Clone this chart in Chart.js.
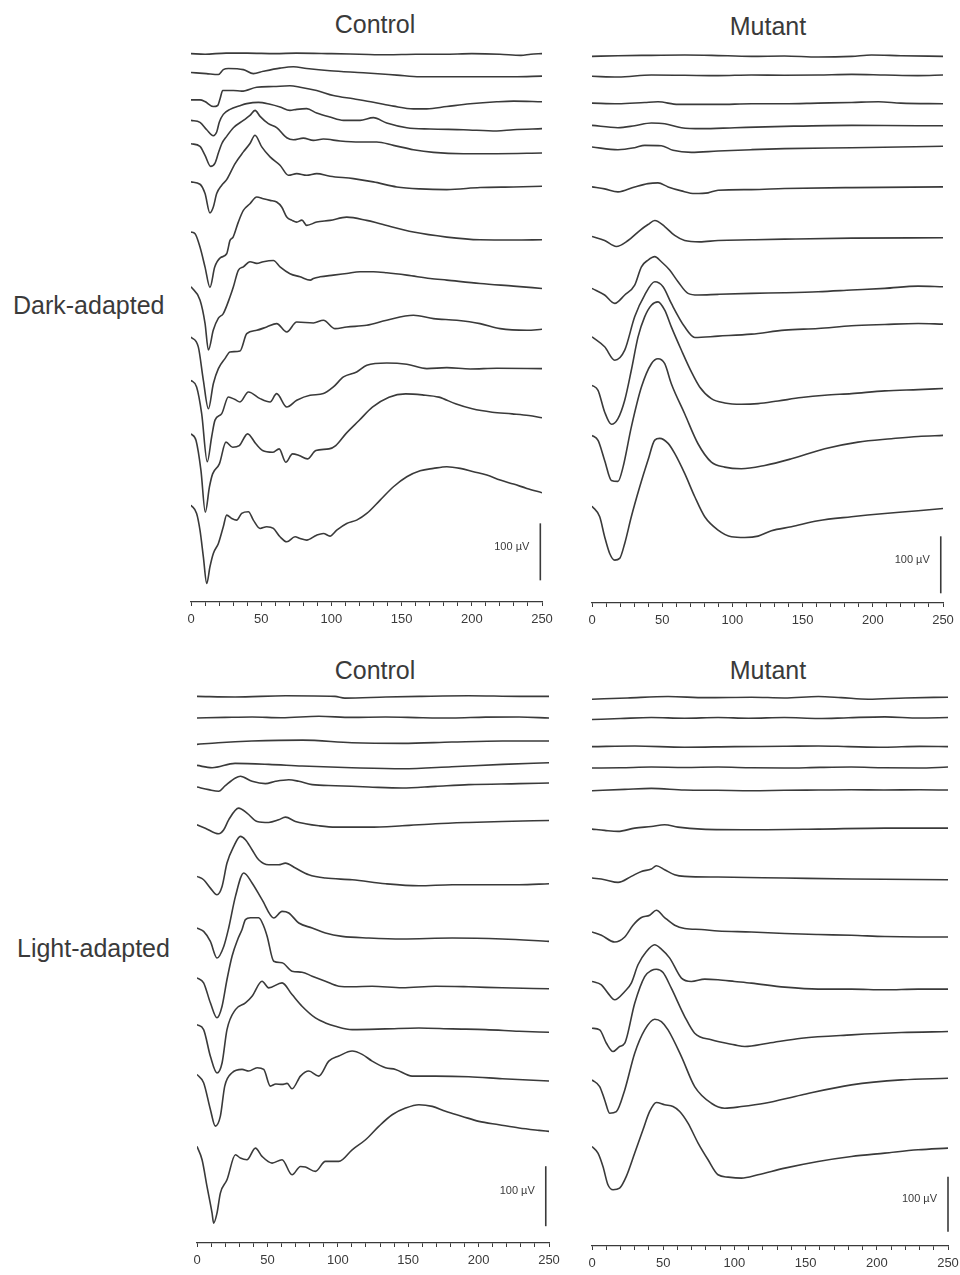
<!DOCTYPE html>
<html>
<head>
<meta charset="utf-8">
<script src="https://cdn.jsdelivr.net/npm/chart.js@4.4.1/dist/chart.umd.min.js"></script>
<style>
  body { margin: 0; background: #fff; width: 960px; height: 1275px; position: relative; overflow: hidden;
         font-family: "Liberation Sans", Arial, sans-serif; color: #3a3a3a; }
  canvas { position: absolute; }
  .lbl { position: absolute; font-size: 25px; line-height: 25px; white-space: nowrap; }
  .ttl { width: 200px; text-align: center; }
</style>
</head>
<body>
<div class="lbl ttl" style="left:275px; top:12px">Control</div>
<div class="lbl ttl" style="left:668px; top:14px">Mutant</div>
<div class="lbl ttl" style="left:275px; top:658px">Control</div>
<div class="lbl ttl" style="left:668px; top:658px">Mutant</div>
<div class="lbl" style="left:13px; top:293px">Dark-adapted</div>
<div class="lbl" style="left:17px; top:936px">Light-adapted</div>

<canvas id="darkControl" width="391" height="606" style="left:171px; top:26px"></canvas>
<canvas id="darkMutant" width="391" height="607" style="left:572px; top:26px"></canvas>
<canvas id="lightControl" width="392" height="597" style="left:177px; top:674px"></canvas>
<canvas id="lightMutant" width="396" height="600" style="left:572px; top:674px"></canvas>

<script>
// each trace: [time ms, µV relative to trace start]; base = stacking offset of each trace (µV above the axis)

// Dark-adapted, control
const darkControl = [
  [[0,0],[10,-1],[25,1],[40,1],[60,0],[75,1],[100,0],[120,-1],[140,-2],[160,-1],[180,-1],[200,0],[220,-1],[235,-3],[242,-1],[250,0]],
  [[0,0],[11,-2],[19.5,-3.5],[23,5],[26.6,7],[37.3,5],[44.4,-2],[51.5,2],[63.4,7.6],[72.9,10],[82.4,7],[99,3],[122.8,-0.6],[146.6,-4.7],[163,-7.6],[194,-7.6],[229.7,-7.6],[250,-6.4]],
  [[0,0],[6.4,0],[9.9,-2.9],[15.9,-11.7],[19,-9.9],[20.7,1.8],[22.6,16.4],[30.2,16.4],[36.1,15.2],[46.8,22.2],[58.7,23.4],[70.5,24.6],[77.7,22.2],[89.5,16.4],[101.4,7.6],[115.7,1.8],[129.9,-4.1],[144.2,-11.1],[158.4,-15.8],[167.9,-15.8],[182.2,-11.7],[198.8,-7],[217.8,-3.5],[229.7,-2.3],[250,-3.5]],
  [[0,0],[6.4,-3.5],[11.2,-16.4],[15.9,-26.9],[18.3,-20.5],[20.2,-2.9],[23,10.5],[27.8,19.3],[34.9,25.7],[39.7,29.3],[48,31.6],[56.3,28.1],[63.4,23.4],[70.5,17.5],[75.3,19.3],[82.4,20.5],[89.5,12.9],[99,5.8],[108.6,0],[120.4,0],[129.9,4.7],[139.4,-4.7],[153.7,-12.9],[170.3,-15.2],[194,-16.4],[217.8,-18.7],[229.7,-16.4],[250,-14.6]],
  [[0,0],[6.4,-4.7],[10,-20.5],[14,-39.8],[17.1,-33.9],[19.5,-16.4],[21.9,0],[25.4,12.9],[30.2,28.1],[37.3,40.9],[42,49.7],[45.6,58.5],[49.2,48],[55.1,35.1],[61,28.1],[68.2,10.5],[72.9,7],[80,9.9],[87.2,5.8],[94.3,8.2],[106.2,4.7],[120.4,2.9],[132.3,2.9],[144.2,-2.9],[158.4,-10.5],[172.7,-15.2],[194,-17.5],[217.8,-17.5],[250,-16.4]],
  [[0,0],[6.4,-4.1],[10,-20.5],[13.5,-54.4],[15.9,-43.9],[18.3,-20.5],[21.9,-5.8],[25.4,4.1],[31.4,32.2],[37.3,52.7],[42,67.3],[45.6,81.9],[50.4,61.4],[56.3,43.9],[63.4,29.3],[69.4,11.7],[75.3,14.6],[82.4,11.7],[89.5,14.6],[99,9.9],[115.7,5.8],[129.9,0],[146.6,-8.8],[163.2,-12.3],[182.2,-13.5],[205.9,-9.9],[229.7,-8.8],[250,-7.6]],
  [[0,0],[2.9,-2.9],[6.4,-26.3],[10,-61.4],[13.5,-97],[16.9,-61.4],[21,-45],[25.4,-38],[27.8,-14.6],[30,-8.8],[33.7,17.5],[37.3,38],[42,49.7],[46.8,61.4],[51.5,58.5],[56.3,55.6],[61,52.7],[64.6,43.9],[68.2,26.3],[72,20.5],[75.3,17.5],[79,21],[82.4,11.7],[89.5,17.5],[99,20.5],[110.9,26.3],[125.1,20.5],[134.7,14.6],[158.4,0],[182.2,-8.8],[205.9,-13.5],[230,-14],[250,-13.5]],
  [[0,0],[6.4,-23],[10,-64],[12.4,-111],[15.9,-76],[19.5,-55],[23,-47],[27.8,-17.5],[30.2,0],[33.7,29],[37.3,35],[42,44],[46.8,41],[51.5,44],[58.7,46],[63.4,35],[70.5,23],[77.7,17.5],[85,11.7],[87.2,14.6],[91.9,17.5],[101.4,20.5],[110.9,23.4],[120.4,26.3],[129.9,26.3],[139.4,24.6],[153.7,20.5],[170.3,14.6],[182.2,11.7],[205.9,5.8],[229.7,1.2],[250,-2.9]],
  [[0,0],[5.2,-17.5],[8.8,-76],[12.4,-126],[15.9,-82],[19.5,-55.6],[24.2,-38],[27.8,-26.3],[34.9,-24.6],[39.7,5.8],[46.8,11.7],[53.9,17.5],[61,23.4],[68.2,8.8],[75.3,26.3],[87.2,24.6],[94.3,29.3],[102.6,14.6],[110.9,17.5],[125.1,20.5],[139.4,29.3],[158.4,38],[172.7,32.2],[189.3,29.3],[205.9,23.4],[220.2,14.6],[239.2,11.7],[250,13.5]],
  [[0,0],[4,-11.7],[7.6,-58.5],[11.6,-143],[14.7,-99.5],[17.1,-70],[21.9,-58.5],[26.6,-29.3],[31.4,-33.9],[34.9,-38],[40.9,-20.5],[49.2,-32.2],[56.3,-38],[61,-23.4],[68.2,-46.8],[75.3,-35.1],[84.8,-26.3],[94.3,-23.4],[101.4,-11.7],[108.6,5.8],[118,14.6],[125.2,26.3],[139.4,30.4],[153.7,28.1],[168,20.5],[182.2,22.2],[198.8,19.9],[217.8,21],[250,20.5]],
  [[0,0],[3.6,-11.7],[7.1,-64.4],[10.2,-137.5],[13.1,-93.6],[15.4,-70.2],[20.2,-52.7],[24.9,-14.6],[29.7,-23.4],[34.4,-20.5],[40.3,0],[46.2,-17.5],[51,-29.3],[58.1,-32.2],[62.8,-26.3],[67.5,-49.7],[72.3,-35.1],[77,-38],[82.9,-43.9],[88.9,-29.3],[98.3,-26.3],[103.1,-20.5],[110.2,0],[119.7,23.4],[129.2,46.8],[141,64.4],[152.9,70.2],[164.7,68.4],[176.6,64.4],[188.4,52.7],[200.3,43.9],[214.5,38],[228.7,35.1],[240.6,32.2],[250,28.1]],
  [[0,0],[4,-14.6],[6.4,-43.9],[8.8,-90.7],[11.2,-137.5],[13.5,-108.2],[15.9,-84.8],[19.5,-67.3],[23,-38],[25.4,-17.5],[29,-23.4],[32.5,-26.3],[36.1,-14.6],[40.9,-11.7],[44.4,-26.3],[49.2,-41],[53.9,-38],[58.7,-41],[63.4,-55.6],[68.2,-64.4],[74.1,-55.6],[77.7,-58.5],[82.4,-61.4],[89.5,-52.7],[94.3,-49.7],[99,-54.4],[103.8,-43.9],[110.9,-32.2],[118,-26.3],[125.2,-14.6],[134.7,8.8],[144.2,32.2],[153.7,49.7],[163.2,60.3],[172.7,64.4],[182.2,67.3],[191.7,64.4],[201.2,58.5],[210.7,52.7],[220.2,43.9],[229.7,36.9],[239.2,29.3],[250,21.6]]
];
const darkControlBase = [962, 929, 881, 845, 804, 737, 649, 553, 465, 389, 295, 170];

// Dark-adapted, mutant
const darkMutant = [
  [[0,0],[18.5,1.2],[42.3,1.8],[66,2.3],[85,1.8],[113.5,0],[137,0.6],[161,-1.2],[185,0],[199,2.3],[220,1.2],[250,0]],
  [[0,0],[18.5,-1.2],[42.3,2.3],[66,1.8],[89.8,1.2],[113.5,2.3],[137,1.8],[161,2.3],[185,3.5],[208.6,2.3],[232,1.2],[250,2.3]],
  [[0,0],[18.5,-1.2],[37.5,1.2],[47,2.3],[61.3,-2.3],[89.8,-2.3],[113.5,-1.2],[137,-1.2],[161,0],[185,1.2],[204,2.3],[220,0],[250,-1.2]],
  [[0,0],[18.5,-4.1],[30.4,-0.6],[42.3,4.1],[51.8,2.9],[63.7,-4.1],[78,-5.8],[101.7,-4.1],[137,-1.8],[185,0],[232,-0.6],[250,-0.6]],
  [[0,0],[18.5,-4.7],[30.4,-1.2],[37.5,2.9],[49.4,2.3],[57.7,-5.8],[70.8,-9.4],[89.8,-7],[113.5,-4.7],[137,-2.9],[185,-1.2],[250,1.2]],
  [[0,0],[9,-3.5],[18.5,-8.8],[30.4,0],[39.9,5.8],[47,7],[54.2,0],[63.7,-7],[73.2,-11.7],[82.7,-10.5],[89.8,-5.8],[113.5,-4.7],[137,-2.9],[185,-1.2],[250,0]],
  [[0,0],[9,-7],[17.3,-17.5],[25.7,-7],[34,10.5],[39.9,21],[44.7,28.1],[51.8,17.5],[58.9,1.8],[66,-7],[76.7,-9.4],[89.8,-7],[113.5,-5.8],[137,-4.7],[185,-2.9],[250,-2.3]],
  [[0,0],[9,-11.7],[16.2,-26.3],[23.3,-11.7],[30.4,5.8],[35.2,37.9],[39.9,49.6],[44.7,55.6],[49.4,46.7],[55.3,32.1],[61.3,11.6],[68.4,-8.8],[75.5,-11.7],[89.8,-10.5],[113.5,-8.8],[137.3,-7.7],[161,-6],[184.8,-3],[208.6,0],[232.3,4],[250,2.8]],
  [[0,0],[9,-17.5],[16.2,-41],[23.3,-23.4],[30.4,35.1],[37.5,73.1],[44.7,96.5],[50.6,87.8],[56.5,58.5],[66,17.5],[73.2,-1.2],[89.8,1.2],[113.5,4.7],[137.3,11.7],[161,14.6],[184.8,19.3],[208.6,21.6],[232.3,23.4],[250,22.2]],
  [[0,0],[4.3,-8.8],[9,-46.8],[13.8,-68.4],[18.5,-58.5],[23.3,-26.3],[28,26.3],[32.8,84.8],[37.5,120],[42.3,140.4],[47,146.3],[51.8,131.6],[56.5,102.4],[63.7,61.4],[70.8,23.4],[76.7,-2.9],[85,-23.4],[94.5,-31],[106.4,-33.3],[118.3,-32.2],[132.5,-27.5],[149.2,-21.6],[165.8,-17.5],[184.8,-14.6],[208.6,-9.9],[232.3,-7.6],[250,-5.8]],
  [[0,0],[4.3,-8.8],[9,-43.9],[13.8,-79],[18.5,-80.7],[22.1,-55.6],[28,14.6],[35.2,84.8],[42.3,125.8],[47,134.6],[51.8,125.8],[56.5,90.7],[66,38],[75.5,-14.6],[85,-46.8],[94.5,-55.6],[106.4,-58.5],[123,-52.7],[142,-41],[165.8,-23.4],[189.5,-11.7],[213.3,-5.8],[232.3,-1.8],[250,0]],
  [[0,0],[5.5,-18.7],[9,-53.8],[12.6,-83.1],[16.2,-94.8],[19.7,-91.8],[23.3,-65.5],[28,-18.7],[34,33.9],[39.9,80.7],[44.7,115.8],[48.2,118.8],[54.2,110],[58.9,92.4],[66,57.3],[73.2,16.4],[80.3,-18.7],[89.8,-42.1],[99.3,-53.8],[108.8,-55],[118.3,-52.7],[127.8,-43.3],[142,-36.3],[161,-25.7],[184.8,-18.7],[208.6,-12.9],[232.3,-8.2],[250,-4.1]]
];
const darkMutantBase = [959, 924, 877, 838, 800, 730, 643, 552, 467, 382, 294, 170];

// Light-adapted, control
const lightControl = [
  [[0,0],[27,-1.1],[63,1.1],[98,0],[105,-2.8],[134,-1.1],[158,0],[193,1.1],[229,0],[250,0]],
  [[0,0],[20,1],[39.1,1.7],[60,0.5],[86.5,2.8],[110,1],[133.9,1.7],[160,0.5],[181.3,0],[205,1.5],[228.7,1.7],[250,0]],
  [[0,0],[15,2.8],[39,5.6],[75,7.2],[110,2.8],[146,1.7],[181,3.9],[217,5.6],[250,5.6]],
  [[0,0],[10.7,-3.9],[27,3.3],[51,1.7],[74.6,-1.1],[110,-3.9],[146,-5.6],[181,-2.2],[217,1.7],[250,4.4]],
  [[0,0],[8.3,-4.4],[15.4,-7.2],[20.1,2.2],[27.3,15],[30.8,17.8],[39.1,9.5],[48.6,5.6],[55.7,9.5],[65.2,12.2],[72.3,9.5],[81.8,3.9],[98.3,2.2],[122,0],[145.7,-1.7],[169.4,1.1],[193,3.9],[228.7,5.6],[250,6.7]],
  [[0,0],[5.9,-5.6],[15.4,-15],[19,-8.3],[22.5,8.3],[29.6,27.8],[35.5,19.5],[42.7,5.6],[50.9,3.9],[58,8.3],[62.8,12.8],[69.9,5.6],[77,1.7],[86.5,-1.7],[98.3,-3.9],[122,-3.9],[145.7,-1.7],[169.4,1.7],[193,3.9],[216.8,5.6],[250,7.2]],
  [[0,0],[4.7,-5.6],[9.5,-19.5],[14.2,-30.6],[17.8,-16.7],[21.3,22.2],[26.1,50],[30.8,66.7],[34.4,61.2],[39.1,44.5],[43.8,27.8],[50.9,19.5],[58,19.5],[62.8,22.2],[69.9,13.9],[79.4,2.8],[91.2,-2.8],[110.2,-5.6],[133.9,-12.2],[157.6,-15.6],[181.3,-13.9],[205,-13.9],[228.7,-13.9],[250,-12.2]],
  [[0,0],[4.7,-5.7],[9.5,-22.3],[14.2,-50],[19,-30.7],[22.5,0],[27.3,52.7],[33.2,91.7],[39.1,75],[46.2,47.2],[54.5,16.7],[60.4,27.7],[65.2,25],[72.3,8.3],[81.8,0],[91.2,-8.3],[103.1,-14],[122,-16.7],[145.7,-18.3],[181.3,-16.7],[216.8,-18.3],[250,-22.3]],
  [[0,0],[4.7,-8.3],[9.5,-41.7],[14.2,-66.7],[17.8,-47.3],[21.3,-2.8],[24.9,36],[28.9,63.8],[32,80.5],[34.4,97],[38,100],[43.8,100],[47.4,86],[49.8,69.4],[54.5,27.7],[60.4,25],[67.5,11],[74.6,9.3],[81.8,2.7],[91.2,-5.7],[100.7,-14],[110.2,-15],[124.4,-14],[145.7,-16.7],[169.4,-14],[193.1,-15],[216.8,-16.7],[250,-18.3]],
  [[0,0],[4.7,-8.3],[9.5,-52.8],[14.2,-80.6],[17.8,-64],[21.3,-8.3],[27.3,25],[34.4,36.1],[39.1,47.3],[46.2,72.3],[50.9,61.2],[60.4,69.5],[67.5,50],[74.6,30.6],[84.1,11.1],[91.2,2.8],[98.3,-2.8],[110.2,-8.3],[133.9,-7.2],[157.6,-5.6],[181.3,-7.2],[205,-8.3],[228.7,-11.1],[250,-12.8]],
  [[0,0],[4.7,-13.9],[9.5,-58.4],[13,-86.2],[16.6,-69.5],[19.7,-19.5],[24.9,2.8],[32,8.3],[36.7,5.6],[42.7,11.1],[47.4,8.3],[52.1,-19.5],[56,-16],[60.4,-16.7],[64,-15],[67.5,-23.9],[73.5,-2.8],[79.4,5.6],[86.5,-2.8],[93.6,22.2],[100.7,30.6],[110.2,38.9],[117.3,33.4],[124.4,22.2],[133.9,11.1],[141,8.3],[152.8,-2.8],[169.4,-2.8],[193.1,-3.9],[216.8,-7.2],[250,-11.1]],
  [[0,0],[3.6,-22.2],[7.1,-66.7],[10.7,-111.2],[11.8,-127.9],[14.2,-111.2],[16.6,-77.8],[21.3,-55.6],[27.3,-13.9],[30.8,-19.5],[35.5,-22.2],[41.5,-2.8],[46.2,-16.7],[53.3,-27.8],[60.4,-22.2],[67.5,-47.3],[73.5,-33.4],[77,-34.5],[84.1,-41.7],[91.2,-25],[100.7,-25],[110.2,-5.6],[119.7,11.1],[129.1,33.4],[138.6,52.8],[148.1,63.9],[157.6,69.5],[167.1,66.7],[176.5,58.4],[188.4,50],[200.2,41.7],[214.5,36.1],[228.7,30.6],[242.9,26.7],[250,25]]
];
const lightControlBase = [911, 875, 831, 796, 760, 697, 611, 525, 442, 364, 281, 161];

// Light-adapted, mutant
const lightMutant = [
  [[0,-1.8],[25,0.5],[53.4,3],[80,1],[112,1.8],[135,0.5],[159,3],[175,1],[194,-1.8],[220,0.5],[250,1.8]],
  [[0,-1.8],[20,0],[41.7,1.8],[65,0.5],[88.5,1.8],[110,0.5],[135,1.8],[159,0],[180,1.5],[205.6,3],[230,1],[250,1.8]],
  [[0,0],[30,1.2],[65,-1.2],[100,0],[135,0.5],[159,1.2],[180,0],[205,-1.2],[230,0.5],[250,0]],
  [[0,0],[20,0.5],[41.7,1.8],[65,1],[88.5,1.8],[112,0.5],[135,0],[160,1.2],[182,1.8],[205,0.5],[229,0],[250,1.8]],
  [[0,-1.2],[23,1.2],[41.7,3],[65,0],[88,-0.5],[112,-1.2],[135,-0.5],[159,0],[182,0.5],[205,0],[230,0.5],[250,0]],
  [[0,0],[8.9,-2.4],[18.3,-4.2],[30,1.8],[41.7,4.8],[51,7.9],[60.4,3.6],[76.8,0],[111.9,-1.2],[158.8,0],[205.6,1.8],[250,1.8]],
  [[0,0],[8.9,-3],[18.3,-7.9],[27.6,3],[34.7,12.1],[41.7,16.4],[45.2,22.4],[51,15.2],[58,6.1],[65.1,3],[88.5,1.8],[135.4,0],[182.2,-1.8],[250,-3]],
  [[0,0],[6.6,-6],[15.9,-18.2],[23,-9.1],[28.8,12.2],[34.7,26.2],[40.5,30.4],[45.2,39.5],[51,26.2],[58.1,12.2],[65.1,6.2],[76.8,4.4],[88.5,1.8],[111.9,0],[135.4,-2.9],[158.8,-4.7],[182.2,-6],[205.6,-8.4],[229,-9.1],[250,-9.1]],
  [[0,0],[6.6,-6.1],[11.2,-21.2],[15.9,-33.3],[23,-18.2],[27.6,-3],[32.3,30.3],[38.2,54.5],[44,66.7],[48.7,58.8],[54.6,42.4],[62.8,6.1],[69.8,0],[79.2,4.2],[88.5,3],[100.2,0],[111.9,-3],[135.4,-10.3],[158.8,-13.9],[182.2,-13.9],[205.6,-15.2],[229,-13.9],[250,-13.9]],
  [[0,0],[5.4,-3],[10.1,-27.3],[14.8,-42.4],[19.4,-33.3],[23,-27.3],[30,45.5],[37,93.9],[41.7,104.8],[45.2,107.3],[49.9,101.2],[55.7,72.7],[65.1,21.2],[72.1,-9.1],[83.8,-21.2],[100.2,-30.3],[107.3,-33.3],[123.7,-27.3],[147.1,-18.2],[182.2,-12.1],[217.3,-7.9],[250,-6.1]],
  [[0,0],[5.4,-12.1],[8.9,-36.4],[12.4,-60.6],[17.1,-57.6],[23,-18.2],[30,48.5],[37,90.9],[44,110.3],[48.7,106],[53.4,90.9],[62.8,42.4],[72.1,-12.1],[83.8,-42.4],[93.2,-51.5],[104.9,-48.5],[121.3,-42.4],[147.1,-27.3],[182.2,-9.1],[217.3,0],[250,3]],
  [[0,0],[4.2,-12.1],[7.7,-36.4],[11.2,-69.7],[14.8,-78.8],[19.4,-75.8],[24.1,-54.5],[30,-12.1],[35.8,30.3],[40.5,63.6],[45.2,80],[51,75.8],[56.9,72.7],[61.6,63.6],[67.4,42.4],[74.5,6.1],[81.5,-24.2],[88.5,-51.5],[95.6,-55.8],[104.9,-57.6],[116.6,-51.5],[135.4,-39.4],[158.8,-27.3],[182.2,-18.2],[205.6,-12.1],[229,-6.1],[250,-3]]
];
const lightMutantBase = [996, 959, 908, 869, 829, 758, 669, 571, 481, 396, 302, 181];

// 100 µV scale bars: [time ms, lower end µV]
const barDarkControl = [248.8, 38];
const barDarkMutant = [248.4, 17];
const barLightControl = [247.7, 28];
const barLightMutant = [250, 26];

const ink = '#3a3a3a';
const tickFont = { family: '"Liberation Sans Narrow", "Liberation Sans", Arial, sans-serif', size: 13 };
const PAD_TOP = 10, AXIS_H = 28;

const scaleBar = {
  id: 'scaleBar',
  afterDatasetsDraw(chart, args, opts) {
    const ctx = chart.ctx;
    const x = chart.scales.x.getPixelForValue(opts.at[0]);
    const y1 = chart.scales.y.getPixelForValue(opts.at[1]);
    const y2 = chart.scales.y.getPixelForValue(opts.at[1] + 100);
    ctx.save();
    ctx.strokeStyle = ink;
    ctx.lineWidth = 1.6;
    ctx.beginPath();
    ctx.moveTo(x, y1);
    ctx.lineTo(x, y2);
    ctx.stroke();
    ctx.fillStyle = ink;
    ctx.font = '11px "Liberation Sans Narrow", "Liberation Sans", Arial, sans-serif';
    ctx.textAlign = 'right';
    ctx.textBaseline = 'middle';
    ctx.fillText('100 µV', x - 11, (y1 + y2) / 2 - 5);
    ctx.restore();
  }
};

function drawPanel(id, traces, base, bar, pxPerUV, padBottom) {
  const canvas = document.getElementById(id);
  const plotH = canvas.height - PAD_TOP - AXIS_H - padBottom;
  const datasets = traces.map((tr, i) => ({
    data: tr.map(p => ({ x: p[0], y: p[1] + base[i] })),
    showLine: true,
    borderColor: ink,
    borderWidth: 1.6,
    pointRadius: 0,
    cubicInterpolationMode: 'monotone',
    fill: false
  }));
  new Chart(canvas, {
    type: 'scatter',
    data: { datasets },
    options: {
      responsive: false,
      animation: false,
      layout: { padding: { left: 20, right: 20, top: PAD_TOP, bottom: padBottom } },
      plugins: { legend: { display: false }, tooltip: { enabled: false }, scaleBar: { at: bar } },
      scales: {
        x: {
          type: 'linear', min: 0, max: 250,
          afterFit: s => { s.height = AXIS_H; },
          grid: { display: true, drawOnChartArea: false, drawTicks: true, tickLength: 4, color: ink, lineWidth: 1 },
          border: { display: true, color: ink, width: 1.3 },
          ticks: { stepSize: 10, autoSkip: false, maxRotation: 0, padding: 6, color: ink, font: tickFont,
                   callback: v => (v % 50 === 0 ? v : '') }
        },
        y: { display: false, min: 0, max: plotH / pxPerUV }
      }
    },
    plugins: [scaleBar]
  });
}

drawPanel('darkControl', darkControl, darkControlBase, barDarkControl, 0.57, 2);
drawPanel('darkMutant', darkMutant, darkMutantBase, barDarkMutant, 0.57, 2);
drawPanel('lightControl', lightControl, lightControlBase, barLightControl, 0.6, 0);
drawPanel('lightMutant', lightMutant, lightMutantBase, barLightMutant, 0.55, 0);
</script>
</body>
</html>
